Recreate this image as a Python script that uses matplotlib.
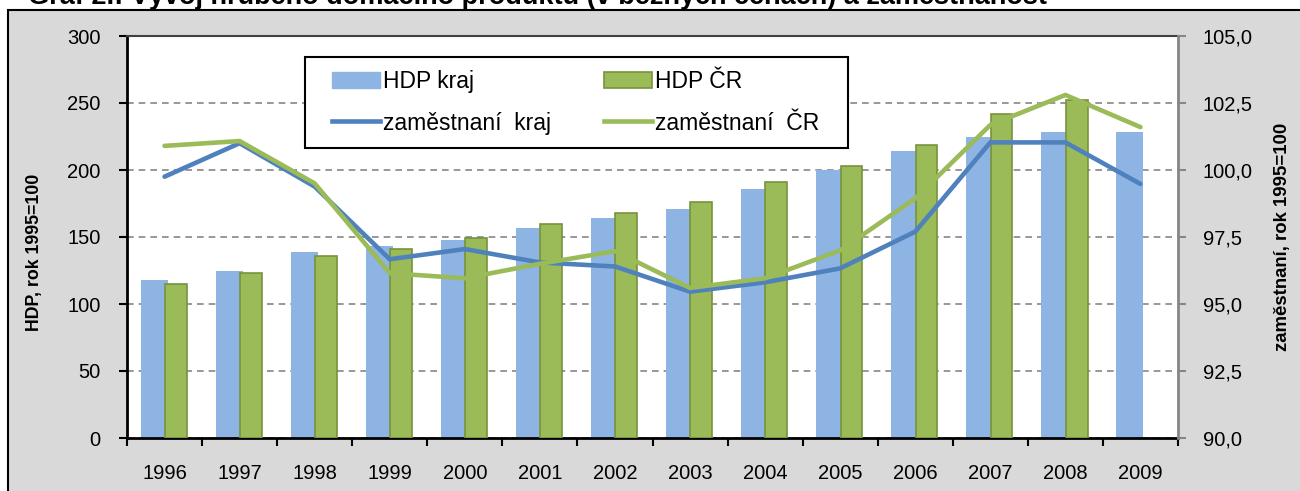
import numpy as np
import matplotlib
matplotlib.use("Agg")
import matplotlib.pyplot as plt
from matplotlib.patches import Rectangle, Patch
from matplotlib.lines import Line2D
from matplotlib.ticker import MultipleLocator, FixedLocator

plt.rcParams['font.family'] = ['Liberation Sans', 'DejaVu Sans']

# data
years = ['1996', '1997', '1998', '1999', '2000', '2001', '2002',
         '2003', '2004', '2005', '2006', '2007', '2008', '2009']
hdp_kraj = [118, 125, 139, 143, 148, 157, 164, 171, 186, 200, 214, 225, 228, 228]
hdp_cr = [115, 123, 136, 141, 149, 160, 168, 176, 191, 203, 219, 242, 252, np.nan]
zam_kraj = [99.75, 101.0, 99.38, 96.67, 97.05, 96.55, 96.4, 95.46, 95.81, 96.33,
            97.7, 101.03, 101.03, 99.48]
zam_cr = [100.9, 101.08, 99.5, 96.15, 95.96, 96.5, 96.97, 95.6, 95.96, 97.0,
          98.94, 101.68, 102.8, 101.6]

c_blue_bar = '#8EB4E3'
c_green_bar = '#9BBB59'
c_green_edge = '#77933C'
c_blue_line = '#4F81BD'
c_green_line = '#9BBB59'

fig = plt.figure(figsize=(13, 4.91), dpi=100)
fig.patch.set_facecolor('white')

# gray frame around chart
fig.add_artist(Rectangle((8 / 1300, -0.05), 1.0, 0.05 + 1 - 10 / 491,
                         transform=fig.transFigure, facecolor='#D9D9D9',
                         edgecolor='black', linewidth=1.5, zorder=-5))

# title (cut off at the top, as in the source)
fig.text(28 / 1300, 1 - 4 / 491,
         'Graf 2.: Vývoj hrubého domácího produktu (v běžných cenách) a zaměstnanost',
         fontsize=19.5, fontweight='bold', va='baseline', ha='left')

ax = fig.add_axes([127 / 1300, 1 - 438 / 491, 1051 / 1300, 402 / 491])
ax.set_facecolor('white')
x = np.arange(len(years))

ax.bar(x - 0.14, hdp_kraj, width=0.36, color=c_blue_bar, zorder=2)
ax.bar(x + 0.15, hdp_cr, width=0.29, color=c_green_bar, edgecolor=c_green_edge,
       linewidth=1.2, zorder=3)

ax.set_xlim(-0.5, len(years) - 0.5)
ax.set_ylim(0, 300)
ax.yaxis.set_major_locator(MultipleLocator(50))
ax.set_axisbelow(True)
ax.grid(axis='y', color='#868686', linestyle=(0, (4, 3)), linewidth=1.2)

ax.set_xticks(x)
ax.set_xticklabels(years)
ax.xaxis.set_minor_locator(FixedLocator(np.arange(-0.5, len(years), 1.0)))
ax.tick_params(axis='x', which='major', length=0, pad=19, labelsize=14.5)
ax.tick_params(axis='x', which='minor', length=6, width=1.5, direction='out', color='black')
ax.tick_params(axis='y', length=6, width=1.5, direction='out', pad=13, labelsize=14.5)

for s in ['left', 'bottom']:
    ax.spines[s].set_linewidth(2)
    ax.spines[s].set_color('black')
ax.spines['top'].set_color('#404040')
ax.spines['top'].set_linewidth(1.5)
ax.spines['right'].set_visible(False)

ax2 = ax.twinx()
ax2.plot(x, zam_kraj, color=c_blue_line, linewidth=3.3, solid_capstyle='round')
ax2.plot(x, zam_cr, color=c_green_line, linewidth=3.3, solid_capstyle='round')
ax2.set_ylim(90, 105)
ax2.yaxis.set_major_locator(MultipleLocator(2.5))
ax2.set_yticklabels([f'{v:.1f}'.replace('.', ',') for v in ax2.get_yticks()])
ax2.tick_params(axis='y', length=6, width=1.5, direction='out', color='#868686',
                pad=12, labelsize=14.5)
ax2.spines['right'].set_color('#868686')
ax2.spines['right'].set_linewidth(2)
for s in ['left', 'bottom', 'top']:
    ax2.spines[s].set_visible(False)

# legend: frame drawn separately, entries placed inside it
ax2.add_patch(Rectangle((0.1694, 0.721), 0.5167, 0.227, transform=ax2.transAxes,
                        facecolor='white', edgecolor='black', linewidth=1.5,
                        zorder=4))
handles = [
    Patch(facecolor=c_blue_bar, edgecolor=c_blue_bar),
    Line2D([], [], color=c_blue_line, linewidth=3.3),
    Patch(facecolor=c_green_bar, edgecolor=c_green_edge, linewidth=1.2),
    Line2D([], [], color=c_green_line, linewidth=3.3),
]
labels = ['HDP kraj', 'zaměstnaní  kraj', 'HDP ČR', 'zaměstnaní  ČR']
leg = ax2.legend(handles, labels, ncol=2, loc='upper left',
                 bbox_to_anchor=(0.195, 0.915, 0.464, 0.0), mode='expand',
                 borderaxespad=0, borderpad=0, fontsize=16.5, frameon=False,
                 handlelength=2.1, handletextpad=0.13, labelspacing=0.8)
leg.set_zorder(5)

fig.text(35 / 1300, 1 - 252 / 491, 'HDP, rok 1995=100', rotation=90,
         fontsize=12.8, fontweight='bold', ha='center', va='center')
fig.text(1282 / 1300, 1 - 237 / 491, 'zaměstnaní, rok 1995=100', rotation=90,
         fontsize=13.4, fontweight='bold', ha='center', va='center')

fig.savefig('out.png', dpi=100)
